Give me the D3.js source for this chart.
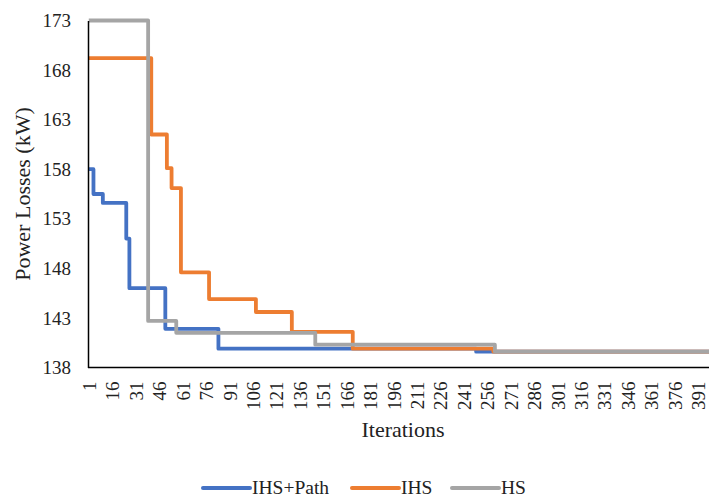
<!DOCTYPE html>
<html>
<head>
<meta charset="utf-8">
<script src="https://cdn.jsdelivr.net/npm/d3@7"></script>
<style>
  body { margin: 0; background: #fff; }
  svg text { font-family: "Liberation Serif", "Times New Roman", serif; fill: #222; }
</style>
</head>
<body>
<div id="chart"></div>
<script>
// change points of each series: [iteration, power losses kW]
var ihsPath = [[1, 158], [4, 155.5], [10, 154.6], [25, 151], [27, 146], [50, 141.9], [84, 139.9], [249, 139.6], [400, 139.6]];
var ihs = [[1, 169.2], [41, 161.5], [51, 158.1], [54, 156.1], [60, 147.6], [78, 144.9], [108, 143.6], [131, 141.6], [170, 139.9], [260, 139.6], [400, 139.6]];
var hs = [[1, 173], [39, 142.7], [57, 141.5], [146, 140.3], [261, 139.6], [400, 139.6]];

var seriesNames = ['IHS+Path', 'IHS', 'HS'];
var seriesColors = ['#4472C4', '#ED7D31', '#A5A5A5'];
var yTicks = [138, 143, 148, 153, 158, 163, 168, 173];
var nIter = 400;
var xTickEvery = 15;

var w = 709;
var h = 497;
var plotLeft = 88, plotTop = 20.5, plotBottom = 367.5;
var step = 1.562;

var svg = d3.select('#chart').append('svg')
  .attr('width', w)
  .attr('height', h);

var x = d3.scaleLinear()
  .domain([0.5, nIter + 0.5])
  .range([plotLeft, plotLeft + nIter * step]);

var y = d3.scaleLinear()
  .domain([138, 173])
  .range([plotBottom, plotTop]);

var line = d3.line()
  .x(function(d) { return x(d[0]); })
  .y(function(d) { return y(d[1]); })
  .curve(d3.curveStepAfter);

var all = [ihsPath, ihs, hs];

svg.append('g')
  .selectAll('path')
  .data(all)
  .enter().append('path')
  .attr('d', line)
  .attr('fill', 'none')
  .attr('stroke', function(d, i) { return seriesColors[i]; })
  .attr('stroke-width', 3.8)
  .attr('stroke-linejoin', 'round');

// y axis
var yAxis = svg.append('g')
  .attr('transform', 'translate(' + plotLeft + ',0)')
  .call(d3.axisLeft(y).tickValues(yTicks).tickSize(0).tickPadding(17));
yAxis.select('.domain').attr('stroke', '#000').attr('stroke-width', 1.5);
yAxis.selectAll('text')
  .style('font-size', '19px')
  .style('font-family', '"Liberation Serif", serif')
  .attr('fill', '#222');

// x axis (category labels every 15 iterations)
var xTicks = d3.range(1, nIter + 1, xTickEvery);
var xAxis = svg.append('g')
  .attr('transform', 'translate(0,' + plotBottom + ')')
  .call(d3.axisBottom(x).tickValues(xTicks).tickSize(0).tickFormat(d3.format('d')));
xAxis.select('.domain')
  .attr('d', 'M' + plotLeft + ',0H' + w)
  .attr('stroke', '#000').attr('stroke-width', 1.5);
xAxis.selectAll('text')
  .style('font-size', '19px')
  .style('font-family', '"Liberation Serif", serif')
  .attr('fill', '#222')
  .attr('text-anchor', 'end')
  .attr('dy', '0.35em')
  .attr('transform', 'translate(0,14) rotate(-90)')
  .attr('y', 0)
  .attr('x', 0);

// axis titles
svg.append('text')
  .attr('transform', 'translate(30,' + ((plotTop + plotBottom) / 2) + ') rotate(-90)')
  .attr('text-anchor', 'middle')
  .style('font-size', '22px')
  .text('Power Losses (kW)');

svg.append('text')
  .attr('x', 403)
  .attr('y', 437)
  .attr('text-anchor', 'middle')
  .style('font-size', '22px')
  .text('Iterations');

// legend
var legendX = [203, 352, 452];
var legend = svg.append('g')
  .selectAll('g')
  .data(seriesNames)
  .enter().append('g')
  .attr('transform', function(d, i) { return 'translate(' + legendX[i] + ',488)'; });

legend.append('line')
  .attr('x1', 0).attr('x2', 47)
  .attr('stroke', function(d, i) { return seriesColors[i]; })
  .attr('stroke-width', 4)
  .attr('stroke-linecap', 'round');

legend.append('text')
  .attr('x', 49)
  .attr('dy', '0.33em')
  .style('font-size', '19.5px')
  .text(function(d) { return d; });
</script>
</body>
</html>
